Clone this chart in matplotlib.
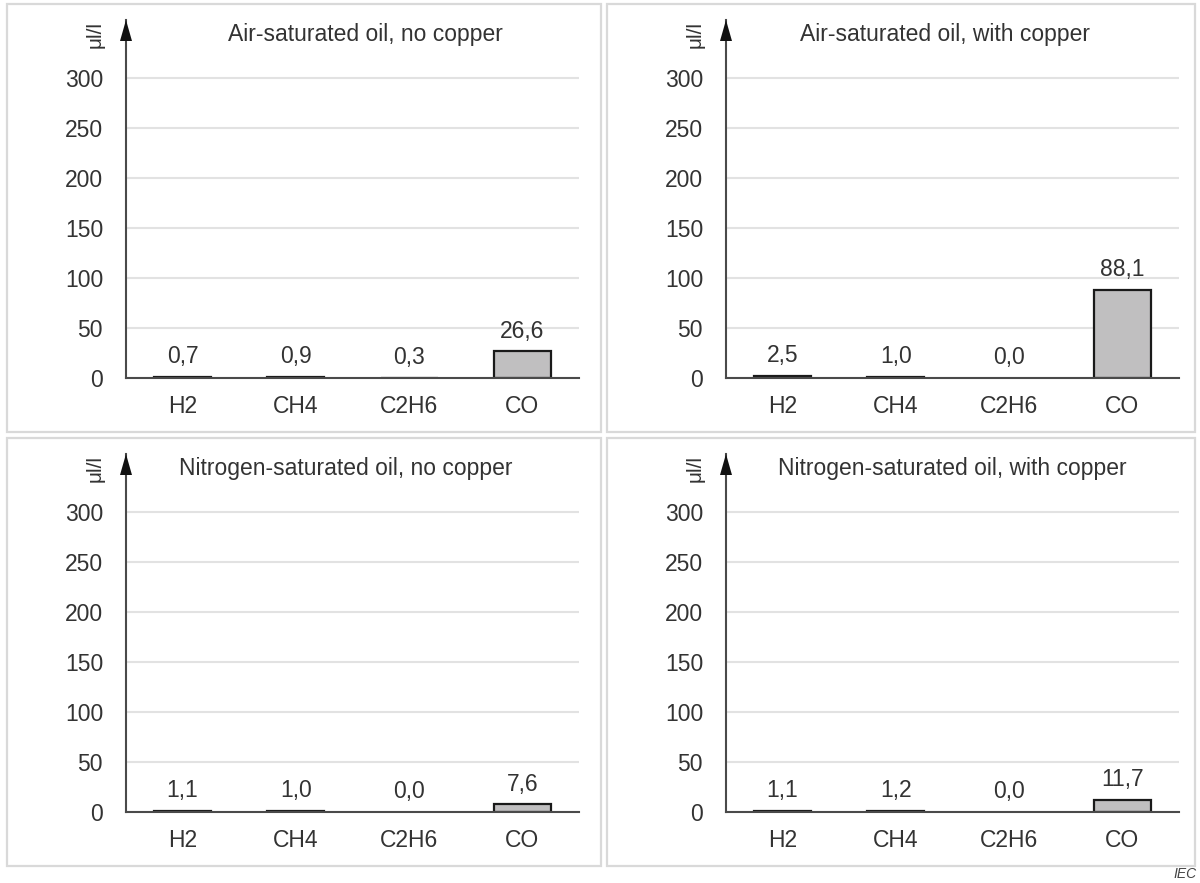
import matplotlib
matplotlib.use("Agg")
import matplotlib.pyplot as plt
from matplotlib.patches import Rectangle, Polygon

plt.rcParams['font.family'] = ['Liberation Sans', 'DejaVu Sans']

categories = ["H2", "CH4", "C2H6", "CO"]
titles = ["Air-saturated oil, no copper", "Air-saturated oil, with copper",
          "Nitrogen-saturated oil, no copper", "Nitrogen-saturated oil, with copper"]
air_no_cu = [0.7, 0.9, 0.3, 26.6]
air_cu = [2.5, 1.0, 0.0, 88.1]
n2_no_cu = [1.1, 1.0, 0.0, 7.6]
n2_cu = [1.1, 1.2, 0.0, 11.7]
yticks = [0, 50, 100, 150, 200, 250, 300]
unit = "μl/l"

W, H = 1200, 883
fig = plt.figure(figsize=(W / 100, H / 100), dpi=100)
fig.patch.set_facecolor("white")

TXT = "#333333"
AXC = "#4a4a4a"
FS = 16.5

def fx(x):
    return x / W

def fy(y):
    return 1 - y / H

panels = [
    dict(vals=air_no_cu, title=titles[0], dx=0, dy=0, tx=365),
    dict(vals=air_cu, title=titles[1], dx=600, dy=0, tx=945),
    dict(vals=n2_no_cu, title=titles[2], dx=0, dy=434, tx=346),
    dict(vals=n2_cu, title=titles[3], dx=600, dy=434, tx=952),
]

for p in panels:
    dx, dy = p["dx"], p["dy"]
    # panel border
    bx0 = 7 + dx
    bx1 = 601 + dx if dx == 0 else 1195
    fig.patches.append(Rectangle((fx(bx0), fy(432 + dy)), fx(bx1 - bx0), (428) / H,
                                 transform=fig.transFigure, fill=False,
                                 edgecolor="#d9d9d9", linewidth=1.6))
    # axes: left 126, width 453; baseline y=378, top (arrow tip) 20
    left, width = 126 + dx, 453
    base, top = 378 + dy, 20 + dy
    ax = fig.add_axes([fx(left), fy(base), fx(width), (base - top) / H])
    ax.set_xlim(-0.5, 3.5)
    ax.set_ylim(0, base - top)
    ax.set_facecolor("none")
    vals = p["vals"]
    edges = ["#1a1a1a" if v > 0 else "none" for v in vals]
    ax.bar(range(len(categories)), vals, width=0.505, color="#c0bfc0",
           edgecolor=edges, linewidth=1.6, zorder=3)
    for i, v in enumerate(vals):
        ax.annotate(f"{v:.1f}".replace(".", ","), xy=(i, v), xytext=(0, 10),
                    textcoords="offset points", ha="center", va="baseline",
                    fontsize=FS, color=TXT)
    ax.set_yticks(yticks)
    ax.set_yticklabels([str(t) for t in yticks])
    ax.set_xticks(range(len(categories)))
    ax.set_xticklabels(categories)
    ax.tick_params(axis="both", length=0, labelsize=FS, labelcolor=TXT)
    ax.tick_params(axis="y", pad=16.5)
    ax.tick_params(axis="x", pad=12)
    ax.grid(axis="y", color="#e2e2e2", linewidth=1.5, zorder=0)
    ax.set_axisbelow(True)
    for s in ["top", "right"]:
        ax.spines[s].set_visible(False)
    for s in ["left", "bottom"]:
        ax.spines[s].set_color(AXC)
        ax.spines[s].set_linewidth(1.5)
        ax.spines[s].set_zorder(4)
    # arrow head at top of y-axis
    hw = 6 / width
    hh = 21 / (base - top)
    ax.add_patch(Polygon([(-hw, 1 - hh), (hw, 1 - hh), (0, 1)], closed=True,
                         transform=ax.transAxes, clip_on=False,
                         facecolor="#111111", edgecolor="none", zorder=5))
    # unit label
    fig.text(fx(95 + dx), fy(35 + dy), unit, rotation=90, ha="center", va="center",
             fontsize=15, color=TXT)
    # title
    fig.text(fx(p["tx"]), fy(41 + dy), p["title"], ha="center", va="baseline",
             fontsize=FS, color=TXT)

fig.text(fx(1197), fy(874), "IEC", ha="right", va="center", fontsize=10,
         style="italic", color="#444444")

fig.savefig("out.png", dpi=100)
